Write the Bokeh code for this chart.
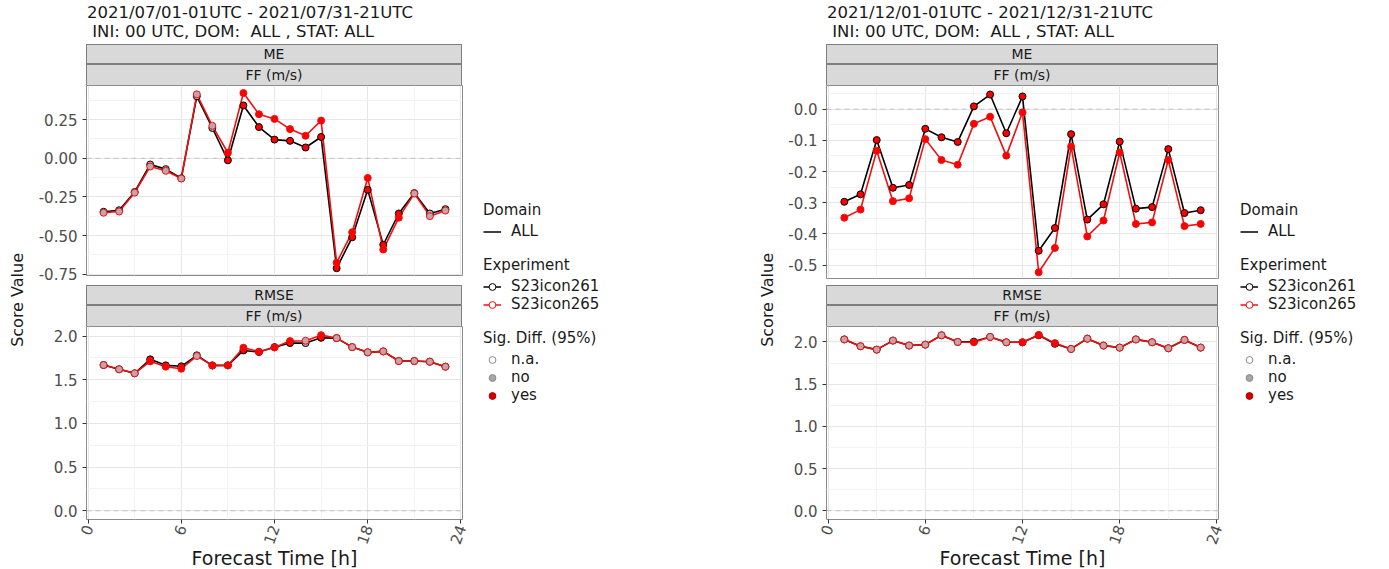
import math
from bokeh.plotting import figure
from bokeh.models import (ColumnDataSource, Range1d, FixedTicker, Span, Div, Spacer,
                          Legend, LegendItem, CustomJSTickFormatter)
from bokeh.layouts import row, column
from bokeh.embed import file_html
from bokeh.resources import INLINE

# ---------------- data ----------------
hours = list(range(1, 24))
experiments = ["S23icon261", "S23icon265"]
exp_colors = ["#000000", "#EE1111"]
domains = ["ALL"]
sig_levels = ["n.a.", "no", "yes"]
sig_point_fill = {"n.a.": "#FFFFFF", "no": "#C4A4A8", "yes": "#FF0000"}
sig_legend_fill = ["#FFFFFF", "#A6A6A6", "#D40000"]

titles_jul = ["2021/07/01-01UTC - 2021/07/31-21UTC", " INI: 00 UTC, DOM:  ALL , STAT: ALL"]
titles_dec = ["2021/12/01-01UTC - 2021/12/31-21UTC", " INI: 00 UTC, DOM:  ALL , STAT: ALL"]
strip_scores = ["ME", "RMSE"]
strip_param = "FF (m/s)"

jul_me_261 = [-0.346, -0.336, -0.218, -0.040, -0.070, -0.129, 0.401, 0.196, -0.013, 0.342, 0.202, 0.121,
              0.113, 0.070, 0.138, -0.711, -0.511, -0.204, -0.559, -0.357, -0.225, -0.357, -0.329]
jul_me_265 = [-0.352, -0.344, -0.222, -0.053, -0.081, -0.131, 0.414, 0.210, 0.036, 0.422, 0.285, 0.255,
              0.189, 0.146, 0.244, -0.675, -0.478, -0.127, -0.590, -0.384, -0.228, -0.374, -0.338]
jul_me_sig = ["no", "no", "no", "no", "no", "no", "no", "no", "yes", "yes", "yes", "yes",
              "yes", "yes", "yes", "yes", "yes", "yes", "yes", "yes", "no", "no", "no"]

jul_rmse_261 = [1.669, 1.620, 1.574, 1.734, 1.665, 1.654, 1.780, 1.665, 1.665, 1.836, 1.817, 1.874,
                1.920, 1.920, 1.980, 1.977, 1.874, 1.814, 1.825, 1.715, 1.715, 1.707, 1.650]
jul_rmse_265 = [1.669, 1.620, 1.574, 1.711, 1.650, 1.627, 1.772, 1.662, 1.665, 1.867, 1.822, 1.870,
                1.943, 1.947, 2.011, 1.977, 1.874, 1.814, 1.825, 1.715, 1.715, 1.707, 1.650]
jul_rmse_sig = ["no", "no", "no", "yes", "yes", "yes", "no", "yes", "yes", "yes", "yes", "yes",
                "yes", "no", "yes", "no", "no", "no", "no", "no", "no", "no", "no"]

dec_me_261 = [-0.297, -0.273, -0.099, -0.252, -0.243, -0.063, -0.090, -0.105, 0.009, 0.047, -0.077, 0.041,
              -0.454, -0.381, -0.080, -0.354, -0.305, -0.104, -0.319, -0.314, -0.128, -0.333, -0.324]
dec_me_265 = [-0.348, -0.322, -0.133, -0.295, -0.286, -0.096, -0.163, -0.178, -0.047, -0.024, -0.149, -0.010,
              -0.523, -0.445, -0.120, -0.408, -0.357, -0.139, -0.368, -0.363, -0.163, -0.375, -0.368]
dec_me_sig = ["yes"] * 23

dec_rmse_261 = [2.030, 1.949, 1.909, 2.016, 1.957, 1.968, 2.079, 2.000, 2.004, 2.059, 1.996, 1.996,
                2.079, 1.978, 1.917, 2.039, 1.957, 1.933, 2.030, 1.996, 1.925, 2.024, 1.933]
dec_rmse_265 = [2.030, 1.949, 1.909, 2.016, 1.957, 1.968, 2.079, 2.000, 1.996, 2.059, 1.996, 1.996,
                2.083, 1.986, 1.917, 2.039, 1.957, 1.933, 2.030, 1.996, 1.925, 2.024, 1.933]
dec_rmse_sig = ["no", "no", "no", "no", "no", "no", "no", "no", "yes", "no", "no", "yes",
                "yes", "yes", "no", "no", "no", "no", "no", "no", "no", "no", "no"]

x_ticks = [0, 6, 12, 18, 24]
x_labels = ["0", "6", "12", "18", "24"]
jul_me_ticks = [-0.75, -0.50, -0.25, 0.00, 0.25]
jul_me_labels = ["-0.75", "-0.50", "-0.25", "0.00", "0.25"]
dec_me_ticks = [-0.5, -0.4, -0.3, -0.2, -0.1, 0.0]
dec_me_labels = ["-0.5", "-0.4", "-0.3", "-0.2", "-0.1", "0.0"]
rmse_ticks = [0.0, 0.5, 1.0, 1.5, 2.0]
rmse_labels = ["0.0", "0.5", "1.0", "1.5", "2.0"]

# ---------------- style ----------------
FONT = "DejaVu Sans"
TXT = "#1A1A1A"
TICK_TXT = "#4D4D4D"
H = 569

FMT_CODE = """
const i = tvals.findIndex(t => Math.abs(t - tick) < 1e-9);
return i >= 0 ? tlabels[i] : "";
"""


def minor_of(ticks):
    step = ticks[1] - ticks[0]
    m = [ticks[0] - step / 2] + [(a + b) / 2 for a, b in zip(ticks[:-1], ticks[1:])] + [ticks[-1] + step / 2]
    return m


def panel(y_ticks, y_labels, y_range, s261, s265, sig, frame_w, frame_h, border_left, border_bottom, with_x):
    p = figure(frame_width=frame_w, frame_height=frame_h,
               x_range=Range1d(-0.1, 24.1), y_range=Range1d(*y_range),
               output_backend="svg", toolbar_location=None,
               min_border_left=border_left, min_border_right=8, min_border_top=0,
               min_border_bottom=border_bottom, margin=(0, 0, 0, 0),
               background_fill_color="white", border_fill_color="white",
               outline_line_color="#8C8C8C", outline_line_width=1)
    # grids
    p.xgrid.ticker = FixedTicker(ticks=x_ticks, minor_ticks=minor_of(x_ticks))
    p.ygrid.ticker = FixedTicker(ticks=y_ticks, minor_ticks=minor_of(y_ticks))
    for g in (p.xgrid[0], p.ygrid[0]):
        g.grid_line_color = "#E6E6E6"
        g.grid_line_width = 1
        g.minor_grid_line_color = "#F3F3F3"
        g.minor_grid_line_width = 1
    # zero line
    p.add_layout(Span(location=0, dimension="width", line_color="#C2C2C2",
                      line_dash="5 4", line_width=1, level="underlay"))
    # y axis
    ya = p.yaxis[0]
    ya.ticker = FixedTicker(ticks=y_ticks)
    ya.formatter = CustomJSTickFormatter(args=dict(tvals=y_ticks, tlabels=y_labels), code=FMT_CODE)
    ya.axis_line_color = None
    ya.major_tick_line_color = "#333333"
    ya.major_tick_out = 4
    ya.major_tick_in = 0
    ya.minor_tick_line_color = None
    ya.major_label_standoff = 5
    ya.major_label_text_font = FONT
    ya.major_label_text_font_size = "15px"
    ya.major_label_text_color = TICK_TXT
    # x axis
    xa = p.xaxis[0]
    if with_x:
        xa.ticker = FixedTicker(ticks=x_ticks)
        xa.formatter = CustomJSTickFormatter(args=dict(tvals=x_ticks, tlabels=x_labels), code=FMT_CODE)
        xa.axis_line_color = None
        xa.major_tick_line_color = "#333333"
        xa.major_tick_out = 4
        xa.major_tick_in = 0
        xa.minor_tick_line_color = None
        xa.major_label_orientation = math.radians(70)
        xa.major_label_standoff = 2
        xa.major_label_text_font = FONT
        xa.major_label_text_font_size = "15px"
        xa.major_label_text_color = TICK_TXT
        xa.axis_label = "Forecast Time [h]"
        xa.axis_label_standoff = -4
        xa.axis_label_text_font = FONT
        xa.axis_label_text_font_size = "19px"
        xa.axis_label_text_font_style = "normal"
        xa.axis_label_text_color = TXT
    else:
        xa.visible = False
    # data
    srcs = []
    for vals, col in zip((s261, s265), exp_colors):
        src = ColumnDataSource(dict(x=hours, y=vals, fill=[sig_point_fill[s] for s in sig]))
        srcs.append((src, col))
    for src, col in srcs:
        p.line("x", "y", source=src, line_color=col, line_width=1.6)
    for src, col in srcs:
        p.scatter("x", "y", source=src, size=7, line_color=col, line_width=1, fill_color="fill")
    return p


def strip_div(text, w, h, bottom=True):
    st = {"background-color": "#D9D9D9", "border": "1px solid #7F7F7F", "box-sizing": "border-box",
          "text-align": "center", "font-family": FONT, "font-size": "14px", "color": TXT,
          "line-height": f"{h - 2 if bottom else h - 1}px", "overflow": "hidden", "white-space": "nowrap"}
    if not bottom:
        st["border-bottom"] = "none"
    return Div(text=text, width=w, height=h, margin=(0, 0, 0, 0), styles=st)


def title_div(lines, w, pad_left):
    html = "<br>".join(lines)
    st = {"font-family": FONT, "font-size": "16.5px", "color": TXT, "line-height": "19px",
          "padding-left": f"{pad_left}px", "padding-top": "3px", "box-sizing": "border-box",
          "white-space": "pre", "overflow": "hidden"}
    return Div(text=html, width=w, height=44, margin=(0, 0, 0, 0), styles=st)


def ytitle_div(w, left):
    html = ('<div style="display:inline-block;writing-mode:vertical-rl;transform:rotate(180deg);'
            f'margin-top:253px;margin-left:{left}px;font-family:\'DejaVu Sans\';font-size:16px;'
            f'color:{TXT};white-space:nowrap;line-height:18px">Score Value</div>')
    return Div(text=html, width=w, height=H, margin=(0, 0, 0, 0),
               styles={"overflow": "hidden"})


def half(titles, me_t, me_l, me_r, me261, me265, mesig, me_fh, me_bb,
         rm_t, rm_l, rm_r, rm261, rm265, rmsig, yt_w, yt_left, border_left, frame_w):
    main_w = border_left + frame_w + 8
    t = title_div(titles, main_w, border_left + 1)
    s1 = row(Spacer(width=border_left, height=41, margin=(0, 0, 0, 0)),
             column(strip_div(strip_scores[0], frame_w, 20),
                    strip_div(strip_param, frame_w, 21, bottom=False), spacing=0),
             spacing=0)
    p1 = panel(me_t, me_l, me_r, me261, me265, mesig, frame_w, me_fh, border_left, me_bb, False)
    s2 = row(Spacer(width=border_left, height=41, margin=(0, 0, 0, 0)),
             column(strip_div(strip_scores[1], frame_w, 20),
                    strip_div(strip_param, frame_w, 21, bottom=False), spacing=0),
             spacing=0)
    p2 = panel(rm_t, rm_l, rm_r, rm261, rm265, rmsig, frame_w, 193, border_left, 50, True)
    main = column(t, s1, p1, s2, p2, spacing=0)
    return ytitle_div(yt_w, yt_left), main


def legend_fig(w, x0, series):
    # the legend renderers hold real series values but sit outside this figure's visible range
    lf = figure(width=w, height=H, x_range=Range1d(1000, 1001), y_range=Range1d(1000, 1001),
                x_axis_location=None, y_axis_location=None, toolbar_location=None,
                output_backend="svg", min_border=0, outline_line_color=None,
                margin=(0, 0, 0, 0), background_fill_color="white", border_fill_color="white")
    lf.grid.visible = False
    r_dom = lf.line(hours, series[0], line_color="black", line_width=1.5)
    exp_items = []
    for name, col, vals in zip(experiments, exp_colors, series):
        rl = lf.line(hours, vals, line_color=col, line_width=1.5)
        rs = lf.scatter(hours, vals, size=5, line_color=col, fill_color="white", line_width=1)
        exp_items.append(LegendItem(label=name, renderers=[rl, rs]))
    sig_items = []
    for name, fc in zip(sig_levels, sig_legend_fill):
        rs = lf.scatter(hours, series[0], size=5,
                        line_color="#8A8A8A" if name != "yes" else "#B00000",
                        fill_color=fc, line_width=1)
        sig_items.append(LegendItem(label=name, renderers=[rs]))

    def style(l):
        l.padding = 0
        l.margin = 0
        l.spacing = 0
        l.border_line_color = None
        l.background_fill_alpha = 0
        l.label_text_font = FONT
        l.label_text_font_size = "15px"
        l.label_text_color = TXT
        l.title_text_font = FONT
        l.title_text_font_size = "15px"
        l.title_text_font_style = "normal"
        l.title_text_color = TXT
        l.glyph_width = 18
        l.glyph_height = 17
        l.label_height = 17
        l.label_standoff = 10
        l.title_standoff = 3
        return l

    l1 = style(Legend(items=[LegendItem(label=domains[0], renderers=[r_dom])], title="Domain",
                      location=(x0, 329)))
    l2 = style(Legend(items=exp_items, title="Experiment", location=(x0, 256)))
    l3 = style(Legend(items=sig_items, title="Sig. Diff. (95%)", location=(x0, 165)))
    for l in (l1, l2, l3):
        lf.add_layout(l, "center")
    return lf


ytL, mainL = half(titles_jul, jul_me_ticks, jul_me_labels, (-0.758, 0.471), jul_me_261, jul_me_265, jul_me_sig,
                  190, 10,
                  rmse_ticks, rmse_labels, (-0.1, 2.11), jul_rmse_261, jul_rmse_265, jul_rmse_sig,
                  28, 9, 58, 376)
ytR, mainR = half(titles_dec, dec_me_ticks, dec_me_labels, (-0.543, 0.076), dec_me_261, dec_me_265, dec_me_sig,
                  193, 7,
                  rmse_ticks, rmse_labels, (-0.104, 2.183), dec_rmse_261, dec_rmse_265, dec_rmse_sig,
                  36, 19, 50, 392)
legL = legend_fig(270, 13, (jul_me_261, jul_me_265))
legR = legend_fig(163, 14, (dec_me_261, dec_me_265))

p = row(ytL, mainL, legL, ytR, mainR, legR, spacing=0)

open("out.html", "w").write(file_html(p, INLINE))
